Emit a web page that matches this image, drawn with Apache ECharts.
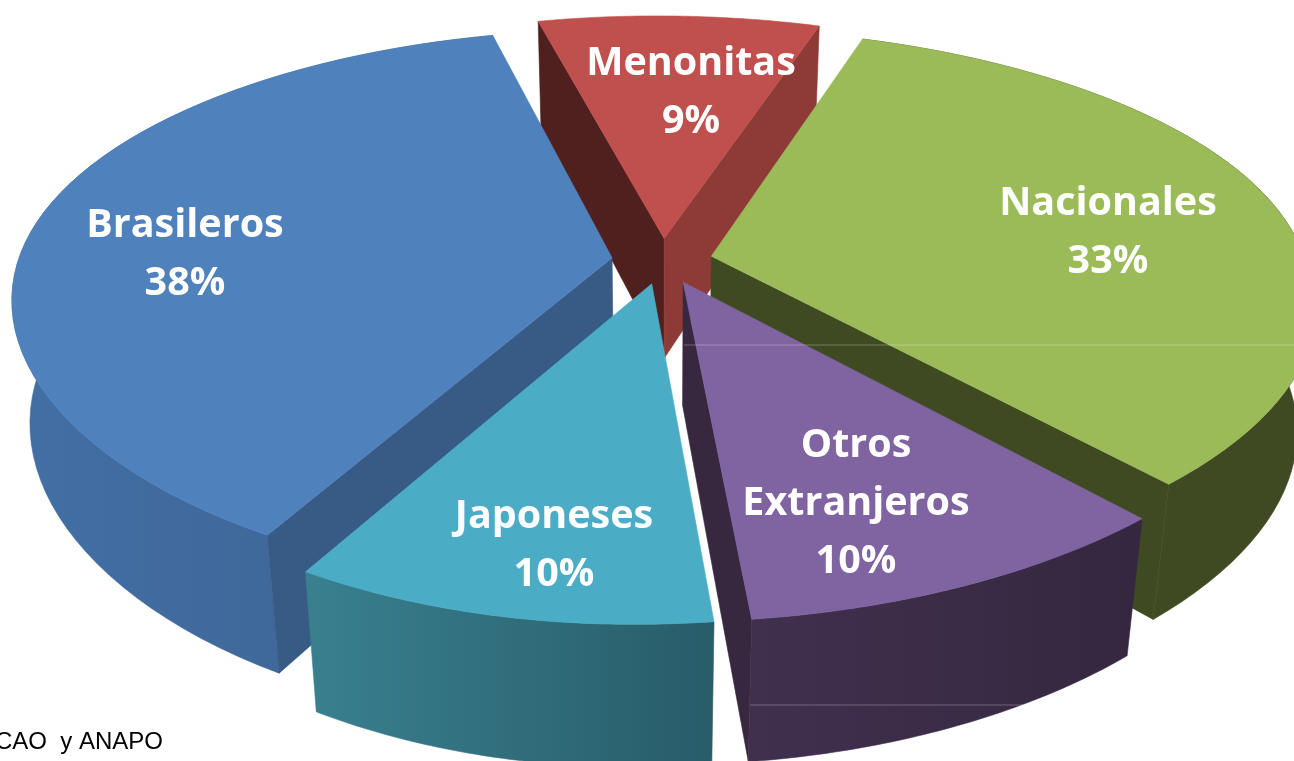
<!DOCTYPE html>
<html><head><meta charset="utf-8">
<style>html,body{margin:0;padding:0;background:#fff;overflow:hidden}#c{width:1294px;height:761px}</style>
<script src="https://cdn.jsdelivr.net/npm/echarts@6.0.0/dist/echarts.min.js"></script>
</head><body><div id="c"></div>
<script>
var categories = ["Menonitas","Nacionales","Otros\nExtranjeros","Japoneses","Brasileros"];
var shares = [9,33,10,10,38];
var topColors = ["#C0504D","#9BBB59","#8064A2","#4BACC6","#4F81BD"];
var drawOrder = [0,1,4,3,2];
var labelAnchors = [[691,93],[1108,233],[856,504],[554,546],[185,255]];

var view = {cx:662,cy:261,A:580,B:270,H:125,kx:0.143,ky:0.18,m:0.028,hy:0.03,bow:15,side:14,warp:30,explode:0.085,start:-13.7};
function rad(d){ return d*Math.PI/180; }
function proj(x,y,z){
  var sx = 1/(1 - view.kx*y + view.m*z);
  var sy = 1/(1 - view.ky*y + view.m*z);
  var b = view.bow*y*y*(y > 0 ? 1 : 0.4);
  var wide = view.side*x*(1-y*y);
  var warp = (x > 0 && y > 0) ? view.warp*x*y : 0;
  return [view.cx + (view.A*x + wide + warp)*sx - b, view.cy + (view.B*y + view.H*(1+view.hy*y)*z)*sy];
}
var total = 0;
shares.forEach(function(v){ total += v; });
var acc = view.start;
var spans = shares.map(function(v){
  var a = acc;
  acc += v/total*360;
  return [a,acc];
});
function rim(i,a,z){
  var mid = (spans[i][0]+spans[i][1])/2;
  var ox = view.explode*Math.sin(rad(mid));
  var oy = -view.explode*Math.cos(rad(mid));
  if (a === null) { return proj(ox,oy,z); }
  return proj(ox+Math.sin(rad(a)), oy-Math.cos(rad(a)), z);
}
function arc(i,a0,a1,z){
  var p = [];
  for (var j = 0; j < 61; j++) { p.push(rim(i, a0+(a1-a0)*j/60, z)); }
  return p;
}
function poly(points,fill){
  return {type:"polygon",shape:{points:points},style:{fill:fill,stroke:fill,lineWidth:0.6}};
}
function cut(i,a,fill){
  return poly([rim(i,null,0),rim(i,a,0),rim(i,a,1),rim(i,null,1)],fill);
}
function wall(i,a0,a1,fill){
  return poly(arc(i,a0,a1,0).concat(arc(i,a0,a1,1).reverse()),fill);
}
function grad(l,r){
  return new echarts.graphic.LinearGradient(0,0,1,0,[{offset:0,color:l},{offset:1,color:r}]);
}
function faces(i){
  var a0 = spans[i][0], a1 = spans[i][1], out = [];
  if (i === 0) { out.push(cut(i,a0,"#4F201E")); out.push(cut(i,a1,"#8E3B38")); }
  if (i === 1) { out.push(cut(i,a1,"#404A22")); out.push(wall(i,a0,a1,"#404A22")); }
  if (i === 2) { out.push(cut(i,a1,"#372840")); out.push(wall(i,a0,a1,grad("#40304F","#35273F"))); }
  if (i === 3) { out.push(wall(i,a0,a1,grad("#39808F","#285C69"))); }
  if (i === 4) { out.push(wall(i,a0,a1,grad("#426FA5","#3E6291"))); out.push(cut(i,a0,"#385B86")); }
  out.push(poly([rim(i,null,0)].concat(arc(i,a0,a1,0)),topColors[i]));
  return out;
}
function renderSlice(params,api){
  var i = api.value(0);
  var kids = faces(i);
  kids.push({
    type:"text",z2:100,
    style:{text:categories[i]+"\n"+api.value(1)+"%",x:labelAnchors[i][0],y:labelAnchors[i][1],
      align:"center",verticalAlign:"middle",fill:"#fff",
      fontFamily:"Open Sans",fontWeight:"bold",fontSize:39.5,lineHeight:58}
  });
  return {type:"group",children:kids};
}
var chart = echarts.init(document.getElementById("c"));
chart.setOption({
  animation:false,
  backgroundColor:"#fff",
  graphic:[
    {type:"text",left:-5,top:730,z:1,style:{text:"CAO  y ANAPO",fontFamily:"Liberation Sans",fontSize:24,fill:"#000"}},
    {type:"line",z:50,shape:{x1:684,y1:345,x2:1294,y2:345},style:{stroke:"rgba(255,255,255,0.28)",lineWidth:1}},
    {type:"line",z:50,shape:{x1:750,y1:705,x2:1135,y2:705},style:{stroke:"rgba(255,255,255,0.28)",lineWidth:1}}
  ],
  series:[{
    type:"custom",
    coordinateSystem:"none",
    data:drawOrder.map(function(i){ return {value:[i,shares[i]],name:categories[i]}; }),
    renderItem:renderSlice
  }]
});
</script></body></html>
